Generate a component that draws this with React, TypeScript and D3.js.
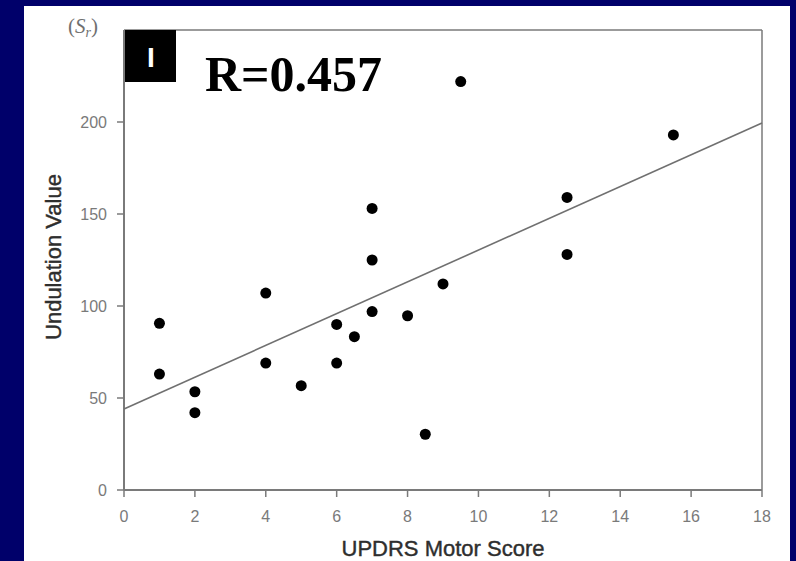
import React from 'react';
import * as d3 from 'd3';

// UPDRS motor score vs undulation value (S_r)
const updrsScore = [1, 1, 2, 2, 4, 4, 5, 6, 6, 6.5, 7, 7, 7, 8, 8.5, 9, 9.5, 12.5, 12.5, 15.5];
const undulation = [90.6, 63, 53.4, 42, 107, 69, 56.7, 90, 69, 83.3, 153, 125, 97, 94.7, 30.3, 112, 222, 159, 128, 193];
const xTicks = [0, 2, 4, 6, 8, 10, 12, 14, 16, 18];
const yTicks = [0, 50, 100, 150, 200];
const rLabel = 'R=0.457';
const panelLabel = 'I';

const W = 796;
const H = 561;

const App = () => {
  const x = d3.scaleLinear().domain([0, 18]).range([124, 762]);
  const y = d3.scaleLinear().domain([0, 250]).range([490, 30]);

  // least squares fit, drawn over the full x range
  const mx = d3.mean(updrsScore) as number;
  const my = d3.mean(undulation) as number;
  const sxy = d3.sum(updrsScore, (v, i) => (v - mx) * (undulation[i] - my));
  const sxx = d3.sum(updrsScore, (v) => (v - mx) * (v - mx));
  const slope = sxy / sxx;
  const intercept = my - slope * mx;
  const fit = d3.line<number>()
    .x((d) => x(d))
    .y((d) => y(intercept + slope * d));

  const axisColor = '#7a7a7a';
  const tickText = '#7a7a7a';

  return (
    <svg width={W} height={H} style={{ position: 'absolute', left: 0, top: 0, display: 'block' }}>
      <rect x={0} y={0} width={W} height={H} fill="#00006a" />
      <rect x={24} y={6} width={766} height={H} fill="#ffffff" />

      {/* frame */}
      <line x1={x(0)} x2={x(18)} y1={y(250)} y2={y(250)} stroke={axisColor} strokeWidth={1.5} />
      <line x1={x(18)} x2={x(18)} y1={y(250)} y2={y(0)} stroke={axisColor} strokeWidth={1.5} />
      <line x1={x(0)} x2={x(18)} y1={y(0)} y2={y(0)} stroke={axisColor} strokeWidth={2} />
      <line x1={x(0)} x2={x(0)} y1={y(250)} y2={y(0)} stroke={axisColor} strokeWidth={2} />

      {/* y ticks */}
      {yTicks.map((t) => (
        <g key={'y' + t}>
          <line x1={x(0) - 7} x2={x(0)} y1={y(t)} y2={y(t)} stroke={axisColor} strokeWidth={1.5} />
          <text x={107} y={y(t) + 6} textAnchor="end" fontFamily="Liberation Sans, Arial, sans-serif"
            fontSize={16} fill={tickText}>{t}</text>
        </g>
      ))}

      {/* x ticks */}
      {xTicks.map((t) => (
        <g key={'x' + t}>
          <line x1={x(t)} x2={x(t)} y1={y(0)} y2={y(0) + 7} stroke={axisColor} strokeWidth={1.5} />
          <text x={x(t)} y={522} textAnchor="middle" fontFamily="Liberation Sans, Arial, sans-serif"
            fontSize={16} fill={tickText}>{t}</text>
        </g>
      ))}

      {/* regression line */}
      <path d={fit([0, 18]) as string} fill="none" stroke="#707070" strokeWidth={1.6} />

      {/* points */}
      {updrsScore.map((v, i) => (
        <circle key={i} cx={x(v)} cy={y(undulation[i])} r={5.5} fill="#000000" />
      ))}

      {/* axis titles */}
      <text x={443} y={556} textAnchor="middle" fontFamily="Liberation Sans, Arial, sans-serif"
        fontSize={22} fill="#2e2e2e" stroke="#2e2e2e" strokeWidth={0.4}>UPDRS Motor Score</text>
      <text transform="translate(61,257) rotate(-90)" textAnchor="middle"
        fontFamily="Liberation Sans, Arial, sans-serif" fontSize={22} fill="#2e2e2e"
        stroke="#2e2e2e" strokeWidth={0.4}>Undulation Value</text>

      {/* unit label */}
      <text x={68} y={33} fontFamily="Liberation Serif, Times New Roman, serif" fontSize={21} fill="#707070">
        (<tspan fontStyle="italic">S</tspan><tspan fontStyle="italic" fontSize={14} dy={4}>r</tspan><tspan dy={-4}>)</tspan>
      </text>

      {/* panel badge */}
      <rect x={125} y={30} width={51} height={52} fill="#000000" />
      <text x={151} y={67} textAnchor="middle" fontFamily="Liberation Sans, Arial, sans-serif"
        fontSize={28} fontWeight="bold" fill="#ffffff">{panelLabel}</text>

      <text x={205} y={91} fontFamily="Liberation Serif, Times New Roman, serif" fontSize={50}
        fontWeight="bold" fill="#000000">{rLabel}</text>
    </svg>
  );
};

export default App;
